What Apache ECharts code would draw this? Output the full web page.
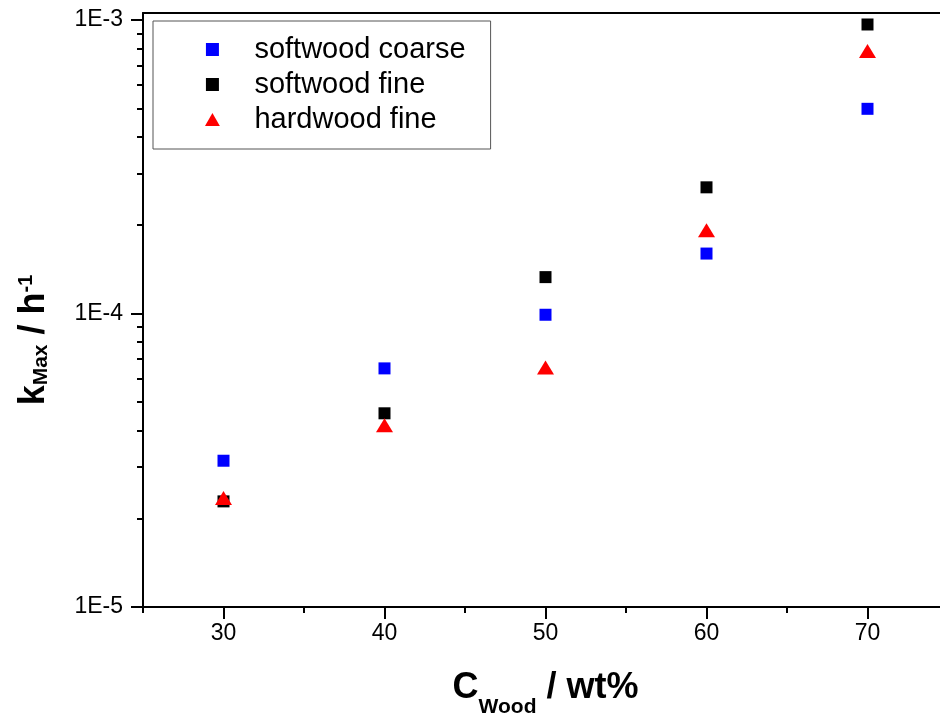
<!DOCTYPE html>
<html>
<head>
<meta charset="utf-8">
<script src="https://cdn.jsdelivr.net/npm/echarts@6/dist/echarts.min.js"></script>
<style>
html,body{margin:0;padding:0;background:#fff;}
#chart{width:940px;height:718px;}
</style>
</head>
<body>
<div id="chart"></div>
<script>
// ---- data ----
const concentrations = [30, 40, 50, 60, 70];
const softwoodCoarse = [3.15e-5, 6.5e-5, 9.9e-5, 1.6e-4, 4.98e-4];
const softwoodFine   = [2.29e-5, 4.57e-5, 1.33e-4, 2.69e-4, 9.65e-4];
const hardwoodFine   = [2.35e-5, 4.16e-5, 6.55e-5, 1.92e-4, 7.84e-4];
const seriesNames = ['softwood coarse', 'softwood fine', 'hardwood fine'];
const xMajorTicks = [30, 40, 50, 60, 70];
const xMinorTicks = [25, 35, 45, 55, 65, 75];
const yMajorTicks = [1e-5, 1e-4, 1e-3];
const yTickLabels = ['1E-5', '1E-4', '1E-3'];

const yMinorTicks = [];
[1e-5, 1e-4, 1e-3].forEach(function (d) {
  for (let m = 2; m <= 9; m++) yMinorTicks.push(+(m * d).toPrecision(3));
});

function pairs(vals) { return concentrations.map(function (x, i) { return [x, vals[i]]; }); }

const FONT = '"Liberation Sans", Arial, Helvetica, sans-serif';
const chart = echarts.init(document.getElementById('chart'), null, { renderer: 'canvas' });

const xCommon = { type: 'value', min: 25, max: 75, gridIndex: 0 };
const yCommon = { type: 'log', logBase: 10, min: 1e-5, max: 1.056e-3, gridIndex: 0 };
const SQUARE = 'path://M0,0 L10,0 L10,10 L0,10 Z';
const TRI = 'path://M8,0 L16,14 L0,14 Z';

chart.setOption({
  animation: false,
  backgroundColor: '#ffffff',
  grid: { left: 143, top: 13, right: -8, bottom: 111, containLabel: false, outerBoundsMode: 'none' },
  xAxis: [
    Object.assign({}, xCommon, {
      position: 'bottom',
      axisLine: { show: true, onZero: false, lineStyle: { color: '#000', width: 2 } },
      axisTick: { show: true, inside: false, length: 12, customValues: xMajorTicks, lineStyle: { color: '#000', width: 2 } },
      axisLabel: { show: true, customValues: xMajorTicks, margin: 15, color: '#000', fontSize: 23, fontFamily: FONT },
      splitLine: { show: false }
    }),
    Object.assign({}, xCommon, {
      position: 'bottom',
      axisLine: { show: false, onZero: false },
      axisTick: { show: true, inside: false, length: 6, customValues: xMinorTicks, lineStyle: { color: '#000', width: 2 } },
      axisLabel: { show: false },
      splitLine: { show: false }
    }),
    Object.assign({}, xCommon, {
      position: 'top',
      axisLine: { show: true, onZero: false, lineStyle: { color: '#000', width: 2 } },
      axisTick: { show: false },
      axisLabel: { show: false },
      splitLine: { show: false }
    })
  ],
  yAxis: [
    Object.assign({}, yCommon, {
      position: 'left',
      axisLine: { show: true, onZero: false, lineStyle: { color: '#000', width: 2 } },
      axisTick: { show: true, inside: false, length: 12, customValues: yMajorTicks, lineStyle: { color: '#000', width: 2 } },
      axisLabel: {
        show: true, customValues: yMajorTicks, margin: 20, color: '#000', fontSize: 23, fontFamily: FONT,
        formatter: function (v) {
          const i = yMajorTicks.findIndex(function (t) { return Math.abs(Math.log10(t) - Math.log10(v)) < 1e-6; });
          return i >= 0 ? yTickLabels[i] : '';
        }
      },
      splitLine: { show: false }
    }),
    Object.assign({}, yCommon, {
      position: 'left',
      axisLine: { show: false, onZero: false },
      axisTick: { show: true, inside: false, length: 6, customValues: yMinorTicks, lineStyle: { color: '#000', width: 2 } },
      axisLabel: { show: false },
      splitLine: { show: false }
    })
  ],
  legend: {
    orient: 'vertical',
    left: 153, top: 21,
    padding: [14, 25, 15, 52],
    itemGap: 6,
    itemWidth: 74,
    itemHeight: 13,
    borderColor: '#555',
    borderWidth: 1,
    backgroundColor: '#fff',
    textStyle: { color: '#000', fontSize: 29, fontFamily: FONT },
    data: [
      { name: seriesNames[0], icon: SQUARE },
      { name: seriesNames[1], icon: SQUARE },
      { name: seriesNames[2], icon: TRI }
    ]
  },
  graphic: [
    {
      type: 'text', x: 545.5, y: 700,
      style: {
        text: '{b|C}{s|Wood}{b| / wt%}',
        align: 'center', verticalAlign: 'middle', fill: '#000',
        rich: {
          b: { fontSize: 36, fontWeight: 'bold', fontFamily: FONT, fill: '#000', verticalAlign: 'bottom', lineHeight: 36, padding: [0, 0, 12, 0] },
          s: { fontSize: 21, fontWeight: 'bold', fontFamily: FONT, fill: '#000', verticalAlign: 'bottom', lineHeight: 21 }
        }
      }
    },
    {
      type: 'text', x: 34, y: 340, rotation: Math.PI / 2,
      style: {
        text: '{b|k}{s|Max}{b| / h}{p|-1}',
        align: 'center', verticalAlign: 'middle', fill: '#000',
        rich: {
          b: { fontSize: 36, fontWeight: 'bold', fontFamily: FONT, fill: '#000', verticalAlign: 'bottom', lineHeight: 36 },
          s: { fontSize: 21, fontWeight: 'bold', fontFamily: FONT, fill: '#000', verticalAlign: 'bottom', lineHeight: 21 },
          p: { fontSize: 20, fontWeight: 'bold', fontFamily: FONT, fill: '#000', verticalAlign: 'top', lineHeight: 20 }
        }
      }
    }
  ],
  series: [
    { name: seriesNames[0], type: 'scatter', xAxisIndex: 0, yAxisIndex: 0, symbol: 'rect', symbolSize: 12,
      itemStyle: { color: '#0000ff', opacity: 1 }, data: pairs(softwoodCoarse) },
    { name: seriesNames[1], type: 'scatter', xAxisIndex: 0, yAxisIndex: 0, symbol: 'rect', symbolSize: 12,
      itemStyle: { color: '#000000', opacity: 1 }, data: pairs(softwoodFine) },
    { name: seriesNames[2], type: 'scatter', xAxisIndex: 0, yAxisIndex: 0, symbol: 'triangle', symbolSize: [17, 14],
      itemStyle: { color: '#ff0000', opacity: 1 }, data: pairs(hardwoodFine) }
  ]
});
</script>
</body>
</html>
